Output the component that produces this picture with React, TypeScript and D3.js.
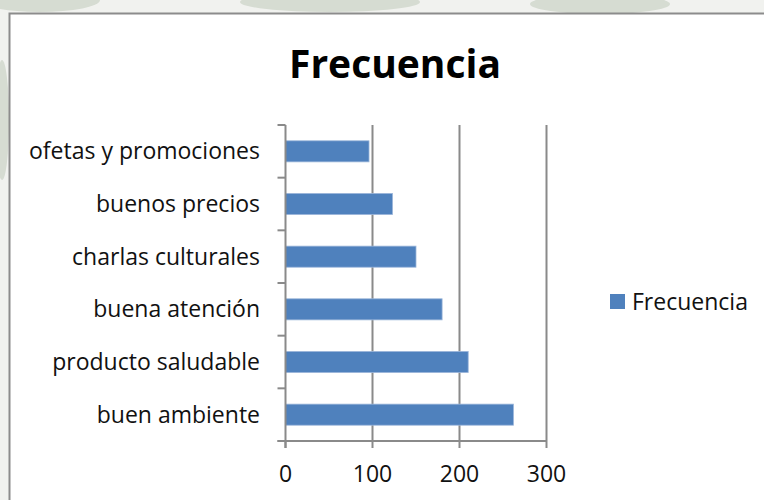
import React, { useEffect, useRef } from "react";
import * as d3 from "d3";

// Response categories (top to bottom as displayed) and their counts
const categories = [
  "ofetas y promociones",
  "buenos precios",
  "charlas culturales",
  "buena atención",
  "producto saludable",
  "buen ambiente",
];
const frecuencia = [96, 123, 150, 180, 210, 262];
const xTicks = [0, 100, 200, 300];
const seriesName = "Frecuencia";
const chartTitle = "Frecuencia";

const W = 764;
const H = 500;
const FONT = "'Open Sans', 'Noto Sans', sans-serif";
const BAR = "#4f81bd";
const GRID = "#8a8a8a";
const LABEL_SIZE = 23;

export default function App() {
  const ref = useRef<SVGSVGElement | null>(null);

  useEffect(() => {
    const svg = d3.select(ref.current);
    svg.selectAll("*").remove();

    // page backdrop behind the chart frame
    svg.append("rect").attr("width", W).attr("height", H).attr("fill", "#f1f2ef");
    const marks = [
      { cx: 40, cy: 0, rx: 60, ry: 12 },
      { cx: 330, cy: 2, rx: 90, ry: 10 },
      { cx: 600, cy: 4, rx: 70, ry: 10 },
      { cx: 2, cy: 120, rx: 7, ry: 60 },
    ];
    svg
      .selectAll("ellipse.bg")
      .data(marks)
      .join("ellipse")
      .attr("cx", (d) => d.cx)
      .attr("cy", (d) => d.cy)
      .attr("rx", (d) => d.rx)
      .attr("ry", (d) => d.ry)
      .attr("fill", "#d6dcd2");

    // chart area frame
    svg
      .append("rect")
      .attr("x", 9.5)
      .attr("y", 13.5)
      .attr("width", W + 20)
      .attr("height", H + 20)
      .attr("fill", "#ffffff")
      .attr("stroke", "#8c8c8c")
      .attr("stroke-width", 2);

    const plot = { left: 285.5, right: 546.5, top: 125, bottom: 441 };

    const x = d3.scaleLinear().domain([0, 300]).range([plot.left, plot.right]);
    const y = d3
      .scaleBand<string>()
      .domain(categories)
      .range([plot.top, plot.bottom])
      .paddingInner(0.6)
      .paddingOuter(0.3);

    // title
    svg
      .append("text")
      .attr("x", 395)
      .attr("y", 78)
      .attr("text-anchor", "middle")
      .attr("font-family", FONT)
      .attr("font-weight", 700)
      .attr("font-size", 39)
      .attr("fill", "#000")
      .text(chartTitle);

    // vertical gridlines
    svg
      .selectAll("line.grid")
      .data(xTicks.slice(1))
      .join("line")
      .attr("x1", (d) => x(d))
      .attr("x2", (d) => x(d))
      .attr("y1", plot.top)
      .attr("y2", plot.bottom)
      .attr("stroke", GRID)
      .attr("stroke-width", 2);

    // bars
    svg
      .selectAll("rect.bar")
      .data(categories)
      .join("rect")
      .attr("x", x(0))
      .attr("y", (d) => y(d)!)
      .attr("width", (_d, i) => x(frecuencia[i]) - x(0))
      .attr("height", y.bandwidth())
      .attr("fill", BAR)
      .attr("stroke", "#9bb6da")
      .attr("stroke-width", 0.8);

    // category axis
    const step = (plot.bottom - plot.top) / categories.length;
    svg
      .append("line")
      .attr("x1", plot.left)
      .attr("x2", plot.left)
      .attr("y1", plot.top)
      .attr("y2", plot.bottom + 7)
      .attr("stroke", GRID)
      .attr("stroke-width", 2);
    svg
      .selectAll("line.ytick")
      .data(d3.range(categories.length + 1))
      .join("line")
      .attr("x1", plot.left - 8)
      .attr("x2", plot.left)
      .attr("y1", (i) => plot.top + i * step)
      .attr("y2", (i) => plot.top + i * step)
      .attr("stroke", GRID)
      .attr("stroke-width", 2);
    svg
      .selectAll("text.ylab")
      .data(categories)
      .join("text")
      .attr("x", 260)
      .attr("y", (d) => y(d)! + y.bandwidth() / 2)
      .attr("dy", "0.35em")
      .attr("text-anchor", "end")
      .attr("font-family", FONT)
      .attr("font-size", LABEL_SIZE)
      .attr("fill", "#111")
      .text((d) => d);

    // value axis
    svg
      .append("line")
      .attr("x1", plot.left - 8)
      .attr("x2", plot.right)
      .attr("y1", plot.bottom)
      .attr("y2", plot.bottom)
      .attr("stroke", GRID)
      .attr("stroke-width", 2);
    svg
      .selectAll("line.xtick")
      .data(xTicks)
      .join("line")
      .attr("x1", (d) => x(d))
      .attr("x2", (d) => x(d))
      .attr("y1", plot.bottom)
      .attr("y2", plot.bottom + 7)
      .attr("stroke", GRID)
      .attr("stroke-width", 2);
    svg
      .selectAll("text.xlab")
      .data(xTicks)
      .join("text")
      .attr("x", (d) => x(d))
      .attr("y", 482)
      .attr("text-anchor", "middle")
      .attr("font-family", FONT)
      .attr("font-size", LABEL_SIZE)
      .attr("fill", "#111")
      .text((d) => String(d));

    // legend
    svg
      .append("rect")
      .attr("x", 610)
      .attr("y", 294)
      .attr("width", 15)
      .attr("height", 15)
      .attr("fill", BAR);
    svg
      .append("text")
      .attr("x", 632)
      .attr("y", 310)
      .attr("font-family", FONT)
      .attr("font-size", LABEL_SIZE)
      .attr("fill", "#111")
      .text(seriesName);
  }, []);

  return (
    <svg
      ref={ref}
      width={W}
      height={H}
      style={{ position: "absolute", left: 0, top: 0, display: "block" }}
    />
  );
}
